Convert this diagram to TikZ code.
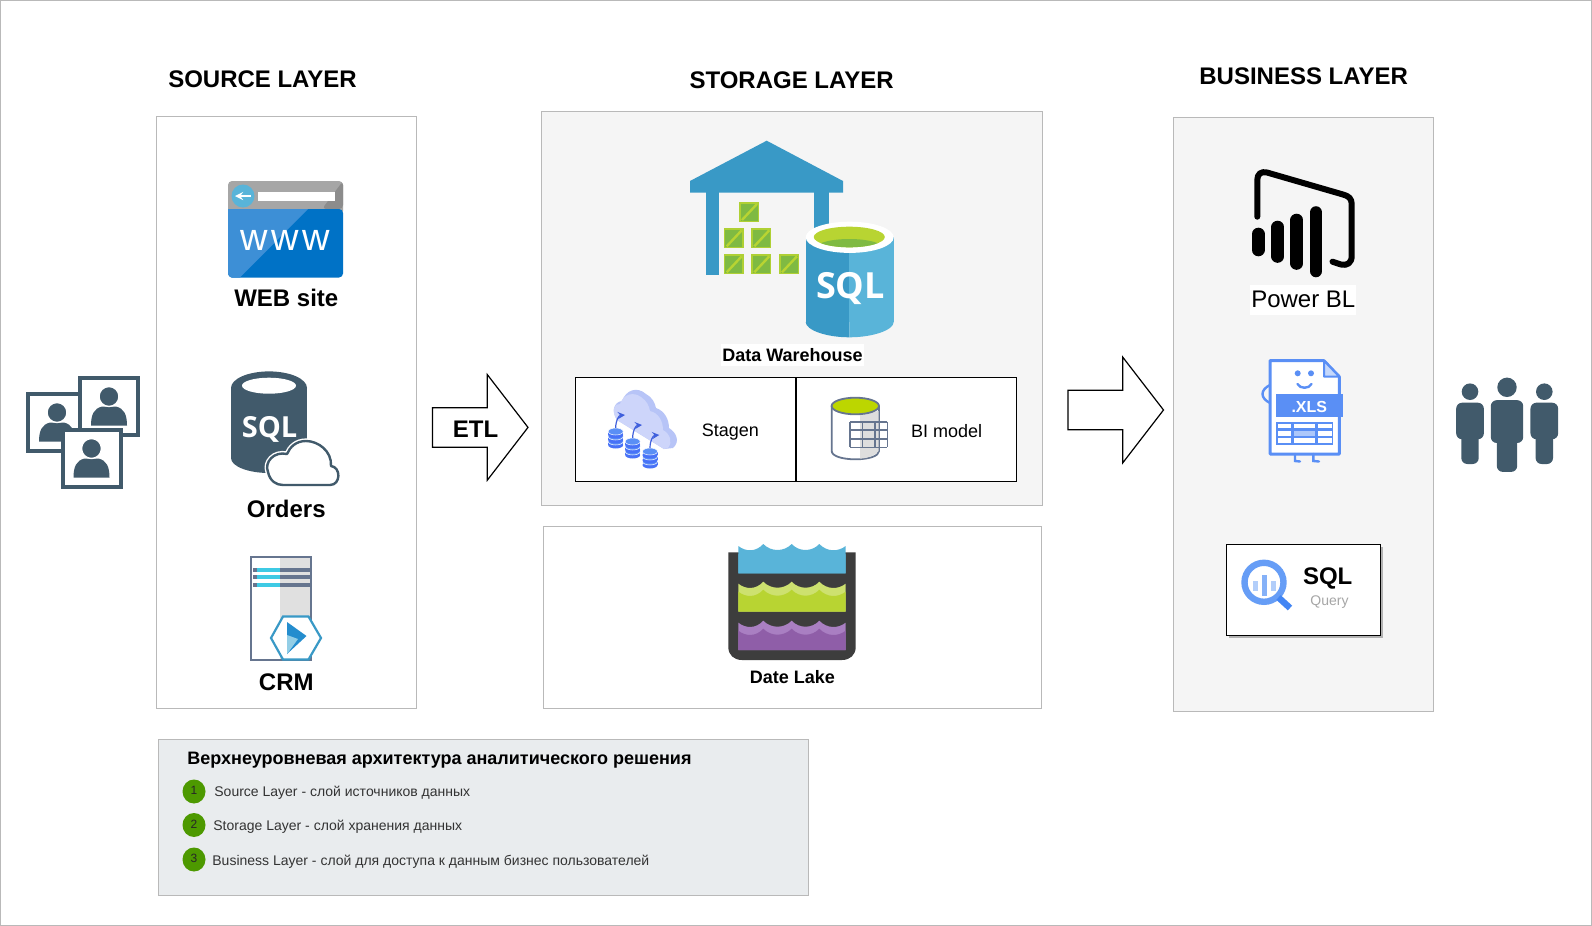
\documentclass[tikz,border=0pt]{standalone}
\usepackage{fontspec}
\setmainfont{Liberation Sans}
\newfontfamily\iconfont{Open Sans}
\usetikzlibrary{calc, shapes, backgrounds}

\definecolor{framegray}{HTML}{B9B9B9}
\definecolor{panelgray}{HTML}{F5F5F5}
\definecolor{notegray}{HTML}{E9ECEE}
\definecolor{slate}{HTML}{415A6B}
\definecolor{azuredark}{HTML}{3999C6}
\definecolor{azurelight}{HTML}{59B4D9}
\definecolor{limegreen}{HTML}{B8D432}
\definecolor{leafgreen}{HTML}{7FBA42}
\definecolor{tablelime}{HTML}{BCD600}
\definecolor{webblue}{HTML}{0072C6}
\definecolor{weblight}{HTML}{3D8FD6}
\definecolor{barblue}{HTML}{5A8FF5}
\definecolor{lensblue}{HTML}{669DF6}
\definecolor{handleblue}{HTML}{4285F4}
\definecolor{arrowblue}{HTML}{3F5FDC}
\definecolor{cloudback}{HTML}{B7C4F7}
\definecolor{cloudfront}{HTML}{CDD5FA}
\definecolor{steelline}{HTML}{66758F}
\definecolor{notegreen}{HTML}{4D9900}
\definecolor{plumdark}{HTML}{8F5EA8}
\definecolor{plumlight}{HTML}{A97FC2}

% one layer of the lake: cusp height, lower edge, band colour, main colour
\newcommand{\lakeband}[4]{
    \fill [#3] (738.3,#1+2) .. controls (746,#1+8) and (756,#1+8) .. (763.3,#1)
        .. controls (771,#1+8) and (784,#1+8) .. (791.7,#1)
        .. controls (799,#1+8) and (812,#1+8) .. (819.3,#1)
        .. controls (827,#1+8) and (838,#1+8) .. (845.7,#1+2) -- (845.7,#2) -- (738.3,#2) -- cycle;
    \fill [#4] (738.3,#1+10) .. controls (746,#1+16) and (756,#1+16) .. (763.3,#1+8)
        .. controls (771,#1+16) and (784,#1+16) .. (791.7,#1+8)
        .. controls (799,#1+16) and (812,#1+16) .. (819.3,#1+8)
        .. controls (827,#1+16) and (838,#1+16) .. (845.7,#1+10) -- (845.7,#2) -- (738.3,#2) -- cycle;
}

\tikzset{
    portrait/.pic={
        \draw [slate, fill=white, line width=2pt] (-29,-28.5) rectangle (29,28.5);
        \fill [slate] (-18,19) .. controls (-18,8) and (-15,2) .. (-7,0) -- (7,0) .. controls (15,2) and (18,8) .. (18,19) -- cycle;
        \draw [white, fill=slate, line width=.7pt] (0,-10) circle [radius=10];
    },
    figure/.pic={
        \fill [slate] (0,0) circle [radius=8.3];
        \fill [slate, rounded corners=3pt] (-13.85,11) rectangle (13.85,47.6);
        \fill [slate, rounded corners=3pt] (-8.7,40) rectangle (8.7,72.3);
    },
    crate/.pic={
        \fill [limegreen!85!leafgreen] (0,0) rectangle (20,20);
        \fill [leafgreen] (1.5,1.5) rectangle (18.5,18.5);
        \draw [limegreen, line width=1.2pt] (3,18) -- (18,2);
    },
    dbstack/.pic={
        \foreach \k in {2,1,0} {
            \fill [barblue!80!blue] (-7.5,5*\k) rectangle (7.5,5*\k+3.5);
            \fill [barblue!80!blue] (0,5*\k+3.5) ellipse [x radius=7.5, y radius=3.5];
            \draw [white, line width=.25pt, fill=barblue] (0,5*\k) ellipse [x radius=7.5, y radius=3.5];
        }
        \draw [arrowblue, line width=.6pt, -stealth] (0,-3.5) .. controls (0,-11) and (3,-16) .. (9.3,-16.5);
    },
    flowarrow/.pic={
        \draw [black, fill=white, line width=.6pt] (0,-19.75) -- (54.8,-19.75) -- (54.8,-52.8) -- (95.5,0) -- (54.8,52.8) -- (54.8,19.75) -- (0,19.75) -- cycle;
    }
}

\begin{document}
\begin{tikzpicture}[
                    x=.5pt, y=-.5pt,
                    layerbox/.style={draw=framegray, fill=white, line width=.5pt},
                    panelbox/.style={draw=framegray, fill=panelgray, line width=.5pt},
                    cellbox/.style={draw=black, fill=white, line width=.6pt},
                    layertitle/.style={inner sep=0pt, font=\bfseries\fontsize{12}{14}\selectfont},
                    iconlabel/.style={inner sep=0pt, font=\bfseries\fontsize{12}{14}\selectfont},
                    smallbold/.style={inner sep=0pt, font=\bfseries\fontsize{9}{11}\selectfont},
                    celllabel/.style={inner sep=0pt, font=\fontsize{9}{11}\selectfont},
                    notetext/.style={anchor=west, inner sep=0pt, text=black!80, font=\fontsize{7}{9}\selectfont},
                    notedot/.style={ellipse, fill=notegreen, minimum width=11.5pt, minimum height=12pt, inner sep=0pt, text=black!85, font=\fontsize{6}{7}\selectfont}
                ]
    \useasboundingbox (0,0) rectangle (1592,926);
    \draw [framegray, line width=.5pt] (.5,.5) rectangle (1591.5,925.5);

    % Panels
    \draw [layerbox] (156.4,116.2) rectangle (416.3,708.2);
    \draw [panelbox] (541,111.7) rectangle (1042.7,505.6);
    \draw [layerbox] (543,526) rectangle (1041.7,708.2);
    \draw [panelbox] (1173.7,117.8) rectangle (1433.6,711.7);
    \draw [draw=framegray, fill=notegray, line width=.5pt] (158.4,739) rectangle (808.2,895.5);

    \node [layertitle] (sourcetitle) at (262.5,79.7) {SOURCE LAYER};
    \node [layertitle] (storagetitle) at (791.6,79.9) {STORAGE LAYER};
    \node [layertitle] (businesstitle) at (1303.6,76.1) {BUSINESS LAYER};

    % Data owners on the left
    \pic at (57,422.5) {portrait};
    \pic at (109,406.5) {portrait};
    \pic at (91.5,458.5) {portrait};

    % Web site icon
    \fill [black!35, rounded corners=2pt] (228,181) rectangle (343,215);
    \fill [black!45, rounded corners=2pt] (322,209) -- (343,181) -- (343,209) -- cycle;
    \fill [webblue, rounded corners=2pt] (228,209) rectangle (343,277.5);
    \fill [weblight] (228,209) -- (308,209) -- (240,277.5) -- (231,277.5) -- (228,274) -- cycle;
    \fill [azurelight] (243,196) circle [radius=11.5];
    \draw [white, line width=.8pt, -stealth] (251,196) -- (235,196);
    \fill [white] (258,192) rectangle (335,201);
    \node [inner sep=0pt, text=white, font=\addfontfeatures{LetterSpace=9}\fontsize{19}{22}\selectfont] (wwwmark) at (285.5,240.5) {www};
    \node [iconlabel] (weblabel) at (286.3,297.5) {WEB site};

    % Orders icon
    \fill [slate] (231,388) rectangle (307,458);
    \fill [slate] (269,388) ellipse [x radius=38, y radius=16.6];
    \fill [slate] (269,458) ellipse [x radius=38, y radius=15];
    \fill [white] (269,385.7) ellipse [x radius=27, y radius=8];
    \node [inner sep=0pt, text=white, font=\iconfont\bfseries\fontsize{14.5}{16}\selectfont] (orderssql) at (269.5,429) {SQL};
    \draw [white, fill=white, line width=2.6pt, line join=round] (283,485) -- (330,485) .. controls (341,485) and (341,467) .. (331,466) .. controls (332,451) and (318,441) .. (306,441) .. controls (296,441) and (290,447) .. (287,454) .. controls (274,451) and (264,462) .. (268,472) .. controls (270,481) and (276,485) .. (283,485) -- cycle;
    \draw [slate, fill=white, line width=1.2pt, line join=round] (283,485) -- (330,485) .. controls (341,485) and (341,467) .. (331,466) .. controls (332,451) and (318,441) .. (306,441) .. controls (296,441) and (290,447) .. (287,454) .. controls (274,451) and (264,462) .. (268,472) .. controls (270,481) and (276,485) .. (283,485) -- cycle;
    \node [iconlabel] (orderslabel) at (286.3,508.7) {Orders};

    % CRM icon
    \fill [black!12] (280,557) rectangle (310.7,660);
    \foreach \y in {569.6,576.8,585} {
        \fill [steelline] (253,\y-2) rectangle (310,\y+2);
        \fill [azurelight!70!cyan] (257,\y-2) rectangle (280,\y+2);
    }
    \draw [steelline, line width=1.2pt] (250.7,557) rectangle (310.7,660);
    \draw [azuredark, fill=white, line width=1.1pt] (271,638) -- (283,616.5) -- (308.5,616.5) -- (321,638) -- (308.5,659.5) -- (283,659.5) -- cycle;
    \fill [azurelight!40!webblue] (287,622) -- (306.5,636) -- (287,654) -- cycle;
    \fill [white!35!azurelight] (287,635) -- (298,639) -- (287,654) -- cycle;
    \node [iconlabel] (crmlabel) at (286.3,682) {CRM};

    % Arrows between the layers
    \pic at (432.5,427.4) {flowarrow};
    \pic at (1068,410) {flowarrow};
    \node [iconlabel] (etl) at (475.5,429.5) {ETL};

    % Warehouse
    \fill [azuredark] (766.7,140.7) -- (843,181) -- (843,192.7) -- (690,192.7) -- (690,181) -- cycle;
    \fill [azuredark] (706,192) rectangle (719.3,275);
    \fill [azuredark] (814.3,192) rectangle (828.7,260);
    \foreach \x/\y in {739/202, 723.7/228.3, 751.3/228.3, 723.7/254.3, 751.3/254.3, 779/254.3} {
        \pic at (\x,\y) {crate};
    }
    \fill [azuredark] (805.7,237.3) rectangle (849.3,322);
    \fill [azuredark] (805.7,322) .. controls (805.7,330) and (826,337.3) .. (849.3,337.3) -- (849.3,320) -- cycle;
    \fill [azurelight] (849.3,237.3) rectangle (893.7,322);
    \fill [azurelight] (893.7,322) .. controls (893.7,330) and (873,337.3) .. (849.3,337.3) -- (849.3,320) -- cycle;
    \fill [white] (849.7,237.3) ellipse [x radius=44, y radius=15.6];
    \fill [limegreen] (849.3,237) ellipse [x radius=35.5, y radius=10.3];
    \begin{scope}
        \clip (849.3,237) ellipse [x radius=35.5, y radius=10.3];
        \fill [leafgreen] (849.3,249) ellipse [x radius=35, y radius=10];
    \end{scope}
    \node [inner sep=0pt, text=white, font=\iconfont\bfseries\fontsize{18}{20}\selectfont] (dwsql) at (850.5,289) {SQL};
    \node [smallbold, fill=white, inner xsep=.5pt, minimum height=11pt] (dwlabel) at (792.5,354.8) {Data Warehouse};

    % Cells inside the warehouse
    \draw [cellbox] (575.7,377.7) rectangle (796,481.3);
    \draw [cellbox] (796,377.7) rectangle (1016.3,481.3);

    % Stagen icon
    \fill [cloudback] (617,420) .. controls (611,411) and (614,402) .. (622,401) .. controls (626,390) and (637,386) .. (646,394) .. controls (652,397) and (655,403) .. (656,408) .. controls (665,411) and (669,420) .. (669,428) .. controls (677,433) and (680,442) .. (673,448) -- (664,449) -- cycle;
    \fill [cloudfront] (617,420) .. controls (611,411) and (614,403) .. (620,404) .. controls (624,393) and (634,392) .. (641,397) .. controls (647,401) and (649,406) .. (650,411) .. controls (659,413) and (663,422) .. (663,430) .. controls (670,434) and (673,442) .. (668,448) -- (664,449) -- cycle;
    \pic at (615.7,431.5) {dbstack};
    \pic at (632.7,441.5) {dbstack};
    \pic at (650,451.5) {dbstack};
    \node [celllabel] (stagenlabel) at (730.3,432) {Stagen};

    % BI model icon
    \draw [steelline, fill=white, line width=.9pt] (831.7,406) -- (831.7,451) .. controls (831.7,456) and (842,459.3) .. (855.3,459.3) .. controls (869,459.3) and (879,456) .. (879,451) -- (879,406);
    \fill [black!13] (860,415) -- (878.5,411) -- (878.5,451) .. controls (875,456) and (868,458) .. (860,458.7) -- cycle;
    \draw [steelline, fill=tablelime, line width=.9pt] (855.3,406) ellipse [x radius=23.7, y radius=8.3];
    \foreach \x in {850,862.4,874.9,887.3} {
        \draw [steelline, line width=.8pt] (\x,421.7) -- (\x,447.3);
    }
    \foreach \y in {421.7,430.2,438.8,447.3} {
        \draw [steelline, line width=.8pt] (850,\y) -- (887.3,\y);
    }
    \node [celllabel] (bilabel) at (946.7,430.7) {BI model};

    % Lake icon
    \fill [black!76] (728.3,552.3) -- (855.7,552.3) -- (855.7,647) .. controls (855.7,655) and (850,660) .. (842,660) -- (742,660) .. controls (734,660) and (728.3,655) .. (728.3,647) -- cycle;
    \lakeband{544}{573.3}{azurelight}{azurelight}
    \lakeband{581.7}{611.7}{limegreen!70!white}{limegreen}
    \lakeband{620.7}{650}{plumlight}{plumdark}
    \node [smallbold] (lakelabel) at (792.3,677) {Date Lake};

    % Power BI icon
    \draw [black, line width=6.3pt, line cap=round] (1258.3,234) -- (1258.3,250);
    \draw [black, line width=6.3pt, line cap=round] (1277.7,227) -- (1277.7,256.5);
    \draw [black, line width=6.3pt, line cap=round] (1296.7,220) -- (1296.7,263.5);
    \draw [black, line width=6.3pt, line cap=round] (1316,212.5) -- (1316,271);
    \draw [black, line width=3pt, line cap=round, line join=round] (1257.3,216.7) -- (1257.3,180) .. controls (1257.3,174) and (1261,171) .. (1267,172.5) -- (1343,194.5) .. controls (1349,196) and (1351.7,199) .. (1351.7,204) -- (1351.7,256) .. controls (1351.7,263) and (1347,266) .. (1341,264.5) -- (1332.5,261.7);
    \node [inner xsep=.5pt, inner ysep=0pt, fill=white, minimum height=15pt, font=\fontsize{12}{14}\selectfont] (powerlabel) at (1303.3,299.5) {Power BL};

    % Spreadsheet icon
    \draw [barblue, fill=white, line width=1.5pt, line join=round] (1270,360.7) -- (1324,360.7) -- (1339.3,376.7) -- (1339.3,454) -- (1270,454) -- cycle;
    \draw [barblue, fill=barblue!35!white, line width=1pt, line join=round] (1324,360.7) -- (1339.3,376.7) -- (1324,376.7) -- cycle;
    \fill [barblue] (1297.7,373.3) circle [radius=3];
    \fill [barblue] (1311,373.3) circle [radius=3];
    \draw [barblue, line width=1.2pt, line cap=round] (1297.5,384) .. controls (1300,389) and (1309,389) .. (1311.5,384);
    \draw [barblue, line width=1.2pt] (1270,385) .. controls (1260,390) and (1260,398) .. (1270,403);
    \draw [barblue, line width=1.2pt, line cap=round] (1295,454) -- (1295,461) -- (1300,461.5);
    \draw [barblue, line width=1.2pt, line cap=round] (1313.3,454) -- (1313.3,461) -- (1319,461.5);
    \fill [barblue] (1276,394.3) rectangle (1343.3,417.3);
    \node [inner sep=0pt, text=white, font=\bfseries\fontsize{8}{9}\selectfont] (xlslabel) at (1309.3,406.5) {.XLS};
    \fill [barblue] (1276,421.7) rectangle (1333.3,445);
    \foreach \ya/\yb in {423.5/428, 431/435.5, 438/443} {
        \foreach \xa/\xb in {1277.5/1291, 1293.5/1315, 1317.5/1332} {
            \fill [white] (\xa,\ya) rectangle (\xb,\yb);
        }
    }
    \fill [barblue!50!white] (1293.5,431) rectangle (1315,435.5);

    % Query card
    \fill [black!30] (1229,547) rectangle (1383,638);
    \draw [black, fill=white, line width=.6pt] (1226.3,544.3) rectangle (1380.7,635.3);
    \draw [lensblue, line width=3.2pt] (1264,582.3) circle [radius=19.5];
    \fill [lensblue!50!white] (1252.5,581) rectangle (1257.5,591);
    \fill [lensblue!50!white] (1270.5,581) rectangle (1275.5,591);
    \fill [lensblue!80!white] (1261.5,575) rectangle (1266.5,596);
    \draw [handleblue, line width=3.2pt] (1278.5,597.5) -- (1290,608);
    \node [inner sep=0pt, font=\bfseries\fontsize{12}{14}\selectfont] (querysql) at (1327.7,578.7) {SQL};
    \node [inner sep=0pt, text=black!35, font=\fontsize{7}{8}\selectfont] (querylabel) at (1329.5,602) {Query};

    % Data users on the right
    \pic at (1470,391.7) {figure};
    \pic [scale=1.17] at (1507,387.3) {figure};
    \pic at (1544.3,391.7) {figure};

    % Note under the panels
    \node [anchor=west, inner sep=0pt, font=\bfseries\fontsize{9}{11}\selectfont] (notetitle) at (187,760.4) {Верхнеуровневая архитектура аналитического решения};
    \node [notedot] (dotone) at (194,791.5) {\raisebox{1pt}{1}};
    \node [notedot] (dottwo) at (194,825) {\raisebox{1pt}{2}};
    \node [notedot] (dotthree) at (194,859.5) {\raisebox{1pt}{3}};
    \node [notetext] (noteone) at (214,793) {Source Layer - слой источников данных};
    \node [notetext] (notetwo) at (213,826.5) {Storage Layer - слой хранения данных};
    \node [notetext] (notethree) at (212,862) {Business Layer - слой для доступа к данным бизнес пользователей};
\end{tikzpicture}
\end{document}
